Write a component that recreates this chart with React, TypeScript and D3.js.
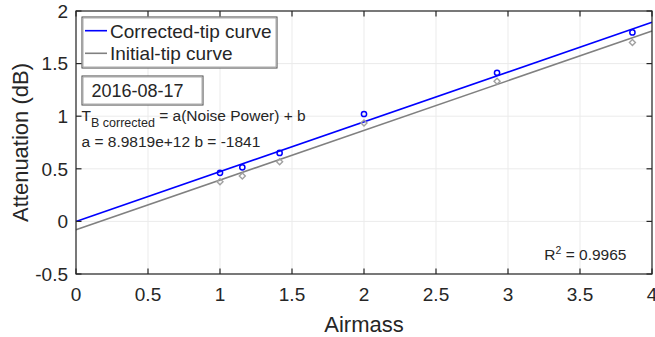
import React from "react";
import * as d3 from "d3";

const airmass = [1, 1.155, 1.414, 2, 2.924, 3.864];
const correctedValues = [0.462, 0.514, 0.651, 1.021, 1.413, 1.796];
const initialValues = [0.376, 0.431, 0.567, 0.935, 1.333, 1.7];
const fitX = [0, 4];
const correctedFit = [0.0, 1.892];
const initialFit = [-0.08, 1.81];
const xTicks = [0, 0.5, 1, 1.5, 2, 2.5, 3, 3.5, 4];
const yTicks = [-0.5, 0, 0.5, 1, 1.5, 2];
const legendLabels = ["Corrected-tip curve", "Initial-tip curve"];
const dateLabel = "2016-08-17";
const coefText = "a = 8.9819e+12 b = -1841";
const r2Value = "0.9965";

const W = 655, H = 337;
const L = 76, R = 652, T = 11, B = 274;
const FONT = "'Liberation Sans', Arial, Helvetica, sans-serif";
const AX = "#262626";

export default function App() {
  const x = d3.scaleLinear().domain([0, 4]).range([L, R]);
  const y = d3.scaleLinear().domain([-0.5, 2]).range([B, T]);
  const line = d3.line<[number, number]>().x(d => x(d[0])).y(d => y(d[1]));
  const cFit = fitX.map((v, i) => [v, correctedFit[i]] as [number, number]);
  const iFit = fitX.map((v, i) => [v, initialFit[i]] as [number, number]);
  const tl = 5.5;
  const diamond = (cx: number, cy: number, s: number) =>
    `M${cx},${cy - s}L${cx + s},${cy}L${cx},${cy + s}L${cx - s},${cy}Z`;

  return (
    <svg width={W} height={H} style={{ position: "absolute", left: 0, top: 0, background: "#fff" }} fontFamily={FONT}>
      <rect x={0} y={0} width={W} height={H} fill="#fff" />
      {/* grid */}
      {xTicks.map(t => (
        <line key={"gx" + t} x1={x(t)} x2={x(t)} y1={T} y2={B} stroke="#ebebeb" strokeWidth={1} />
      ))}
      {yTicks.map(t => (
        <line key={"gy" + t} x1={L} x2={R} y1={y(t)} y2={y(t)} stroke="#ebebeb" strokeWidth={1} />
      ))}
      {/* fit lines */}
      <path d={line(iFit) || ""} stroke="#808080" strokeWidth={1.6} fill="none" />
      <path d={line(cFit) || ""} stroke="#0000ff" strokeWidth={1.6} fill="none" />
      {/* markers */}
      {airmass.map((a, i) => (
        <path key={"d" + i} d={diamond(x(a), y(initialValues[i]), 3)} stroke="#a0a0a0" strokeWidth={1.4} fill="none" />
      ))}
      {airmass.map((a, i) => (
        <circle key={"c" + i} cx={x(a)} cy={y(correctedValues[i])} r={2.6} stroke="#0000ff" strokeWidth={1.5} fill="none" />
      ))}
      {/* axes box */}
      <rect x={L} y={T} width={R - L} height={B - T} fill="none" stroke={AX} strokeWidth={1.2} />
      {xTicks.map(t => (
        <g key={"tx" + t}>
          <line x1={x(t)} x2={x(t)} y1={B} y2={B - tl} stroke={AX} strokeWidth={1.2} />
          <line x1={x(t)} x2={x(t)} y1={T} y2={T + tl} stroke={AX} strokeWidth={1.2} />
          <text x={x(t)} y={301} textAnchor="middle" fontSize={19} fill={AX}>{t}</text>
        </g>
      ))}
      {yTicks.map(t => (
        <g key={"ty" + t}>
          <line x1={L} x2={L + tl} y1={y(t)} y2={y(t)} stroke={AX} strokeWidth={1.2} />
          <line x1={R} x2={R - tl} y1={y(t)} y2={y(t)} stroke={AX} strokeWidth={1.2} />
          <text x={68} y={y(t) + 6.8} textAnchor="end" fontSize={19} fill={AX}>{t}</text>
        </g>
      ))}
      <text x={(L + R) / 2} y={332} textAnchor="middle" fontSize={22} fill={AX}>Airmass</text>
      <text transform={`translate(28,${(T + B) / 2}) rotate(-90)`} textAnchor="middle" fontSize={22} fill={AX}>Attenuation (dB)</text>
      {/* legend */}
      <rect x={82} y={17} width={195} height={51} fill="#fff" stroke="#444" strokeWidth={1} />
      <rect x={83} y={18} width={193} height={49} fill="none" stroke="#aaa" strokeWidth={1} />
      <line x1={85} x2={107} y1={30.7} y2={30.7} stroke="#0000ff" strokeWidth={1.6} />
      <line x1={85} x2={107} y1={53.3} y2={53.3} stroke="#808080" strokeWidth={1.6} />
      <text x={110} y={37.5} fontSize={19} fill={AX}>{legendLabels[0]}</text>
      <text x={110} y={60} fontSize={19} fill={AX}>{legendLabels[1]}</text>
      {/* date box */}
      <rect x={82} y={76} width={121} height={29} fill="#fff" stroke="#444" strokeWidth={1} />
      <rect x={83} y={77} width={119} height={27} fill="none" stroke="#aaa" strokeWidth={1} />
      <text x={91.5} y={97} fontSize={18} fill={AX}>{dateLabel}</text>
      {/* formula */}
      <text x={81.5} y={120.7} fontSize={15.5} fill={AX}>
        T
        <tspan fontSize={12.5} dy={6.6}>B corrected</tspan>
        <tspan dy={-6.6}> = a(Noise Power) + b</tspan>
      </text>
      <text x={81.5} y={146.7} fontSize={15.5} fill={AX}>{coefText}</text>
      {/* R2 */}
      <text x={544.3} y={260} fontSize={15.5} fill={AX}>
        R<tspan fontSize={10.5} dy={-6.5}>2</tspan><tspan dy={6.5}> = {r2Value}</tspan>
      </text>
    </svg>
  );
}
